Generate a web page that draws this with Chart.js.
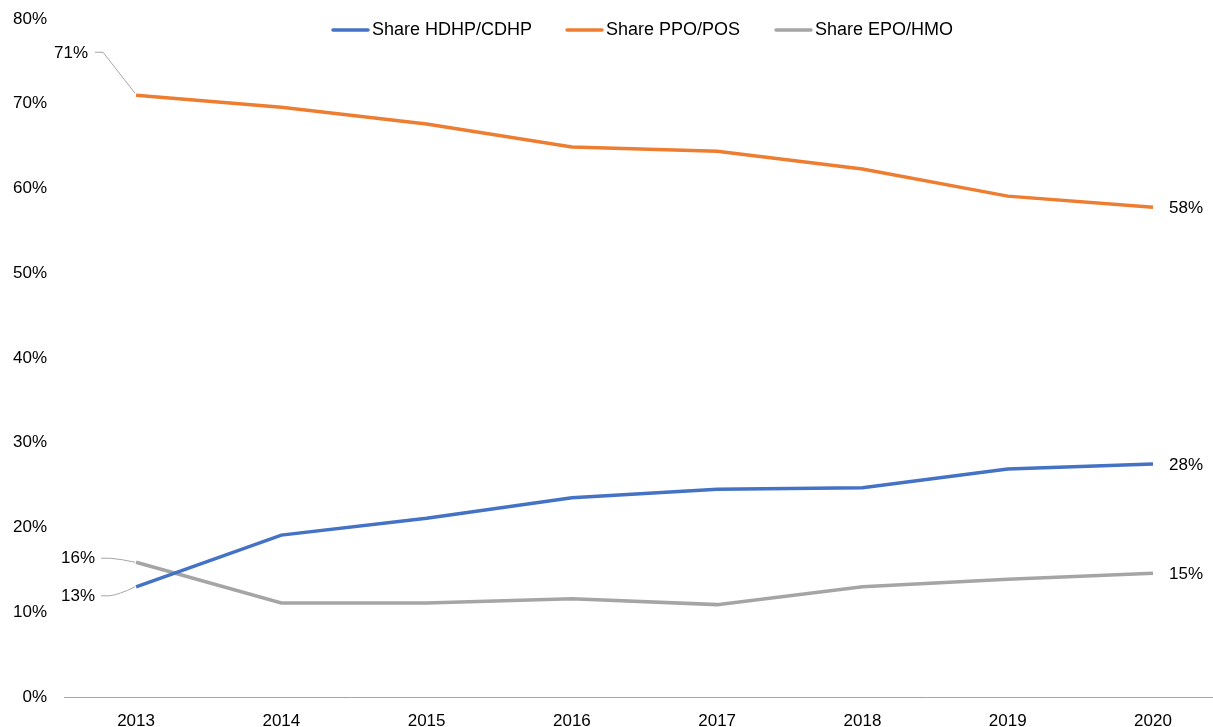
<!DOCTYPE html>
<html>
<head>
<meta charset="utf-8">
<script src="https://cdn.jsdelivr.net/npm/chart.js@4"></script>
<style>
  html, body { margin: 0; padding: 0; background: #fff; }
  #wrap { width: 1213px; height: 727px; }
</style>
</head>
<body>
<div id="wrap"><canvas id="planChart"></canvas></div>
<script>
// years on the x axis
var years = [2013, 2014, 2015, 2016, 2017, 2018, 2019, 2020];

// share of enrollment by plan type (%)
var shareHDHP = [13.0, 19.1, 21.1, 23.5, 24.5, 24.7, 26.9, 27.5];
var sharePPO  = [71.0, 69.6, 67.6, 64.9, 64.4, 62.3, 59.1, 57.8];
var shareEPO  = [15.9, 11.1, 11.1, 11.6, 10.9, 13.0, 13.9, 14.6];

// labels written next to the first / last points
var firstLabels = ['13%', '71%', '16%'];
var lastLabels  = ['28%', '58%', '15%'];

var seriesNames  = ['Share HDHP/CDHP', 'Share PPO/POS', 'Share EPO/HMO'];
var seriesColors = ['#4472C4', '#ED7D31', '#A5A5A5'];

var FONT = '"Liberation Sans", Arial, sans-serif';

function toPoints(values) {
    return values.map(function (v, i) { return { x: years[i], y: v }; });
}

var seriesValues = [shareHDHP, sharePPO, shareEPO];
var datasets = seriesValues.map(function (vals, i) {
    return {
        label: seriesNames[i],
        data: toPoints(vals),
        borderColor: seriesColors[i],
        backgroundColor: seriesColors[i],
        borderWidth: 3.5,
        pointRadius: 0,
        tension: 0
    };
});

// draws the legend at the top and the end-point labels with leader lines
var labelPlugin = {
    id: 'labelPlugin',
    afterDraw: function (chart) {
        var ctx = chart.ctx;
        ctx.save();
        ctx.fillStyle = '#000';
        ctx.textBaseline = 'middle';

        // legend
        ctx.font = '18px ' + FONT;
        var legendY = 30;
        var lx = [333, 567, 776];
        for (var i = 0; i < seriesNames.length; i++) {
            ctx.strokeStyle = seriesColors[i];
            ctx.lineWidth = 3.5;
            ctx.lineCap = 'round';
            ctx.beginPath();
            ctx.moveTo(lx[i], legendY);
            ctx.lineTo(lx[i] + 35, legendY);
            ctx.stroke();
            ctx.textAlign = 'left';
            ctx.fillText(seriesNames[i], lx[i] + 39, legendY);
        }

        ctx.font = '17px ' + FONT;

        // last-point labels on the right
        ctx.textAlign = 'left';
        for (var d = 0; d < 3; d++) {
            var meta = chart.getDatasetMeta(d);
            var p = meta.data[meta.data.length - 1];
            ctx.fillText(lastLabels[d], p.x + 16, p.y + 1);
        }

        // first-point labels on the left with leader lines
        ctx.textAlign = 'right';
        ctx.strokeStyle = '#A6A6A6';
        ctx.lineWidth = 1;
        ctx.lineCap = 'butt';

        // PPO 71%
        var pp = chart.getDatasetMeta(1).data[0];
        ctx.fillText(firstLabels[1], pp.x - 48, pp.y - 42);
        ctx.beginPath();
        ctx.moveTo(pp.x - 41, pp.y - 43);
        ctx.lineTo(pp.x - 33, pp.y - 43);
        ctx.lineTo(pp.x - 1, pp.y - 2);
        ctx.stroke();

        // EPO 16%
        var pe = chart.getDatasetMeta(2).data[0];
        ctx.fillText(firstLabels[2], pe.x - 41, pe.y - 4);
        ctx.beginPath();
        ctx.moveTo(pe.x - 35, pe.y - 4);
        ctx.lineTo(pe.x - 26, pe.y - 4);
        ctx.quadraticCurveTo(pe.x - 14, pe.y - 3, pe.x - 1, pe.y);
        ctx.stroke();

        // HDHP 13%
        var ph = chart.getDatasetMeta(0).data[0];
        ctx.fillText(firstLabels[0], ph.x - 41, ph.y + 9);
        ctx.beginPath();
        ctx.moveTo(ph.x - 35, ph.y + 9);
        ctx.lineTo(ph.x - 27, ph.y + 9);
        ctx.quadraticCurveTo(ph.x - 17, ph.y + 8, ph.x - 1, ph.y);
        ctx.stroke();

        ctx.restore();
    }
};

var chart = new Chart(document.getElementById('planChart').getContext('2d'), {
    type: 'line',
    data: { datasets: datasets },
    options: {
        responsive: true,
        maintainAspectRatio: false,
        animation: false,
        layout: { padding: { top: 19, right: 0, left: 0, bottom: 0 } },
        plugins: {
            legend: { display: false },
            tooltip: { enabled: false }
        },
        scales: {
            x: {
                type: 'linear',
                min: 2012.504,
                max: 2020.413,
                grid: { display: false, drawTicks: false },
                border: { display: true, color: '#A6A6A6', width: 1 },
                afterBuildTicks: function (scale) {
                    scale.ticks = years.map(function (y) { return { value: y }; });
                },
                afterFit: function (scale) { scale.height = 30; },
                ticks: {
                    color: '#000',
                    font: { family: FONT, size: 17 },
                    padding: 14,
                    maxRotation: 0,
                    callback: function (v) { return String(v); }
                }
            },
            y: {
                min: 0,
                max: 80,
                grid: { display: false, drawTicks: false },
                border: { display: false },
                afterFit: function (scale) {
                    scale.width = 64;
                    // keep tick padding from pushing the plot area down
                    scale.paddingTop = 9;
                    scale.paddingBottom = 9;
                },
                ticks: {
                    stepSize: 10,
                    color: '#000',
                    font: { family: FONT, size: 17 },
                    padding: 17,
                    callback: function (v) { return v + '%'; }
                }
            }
        }
    },
    plugins: [labelPlugin]
});
</script>
</body>
</html>
